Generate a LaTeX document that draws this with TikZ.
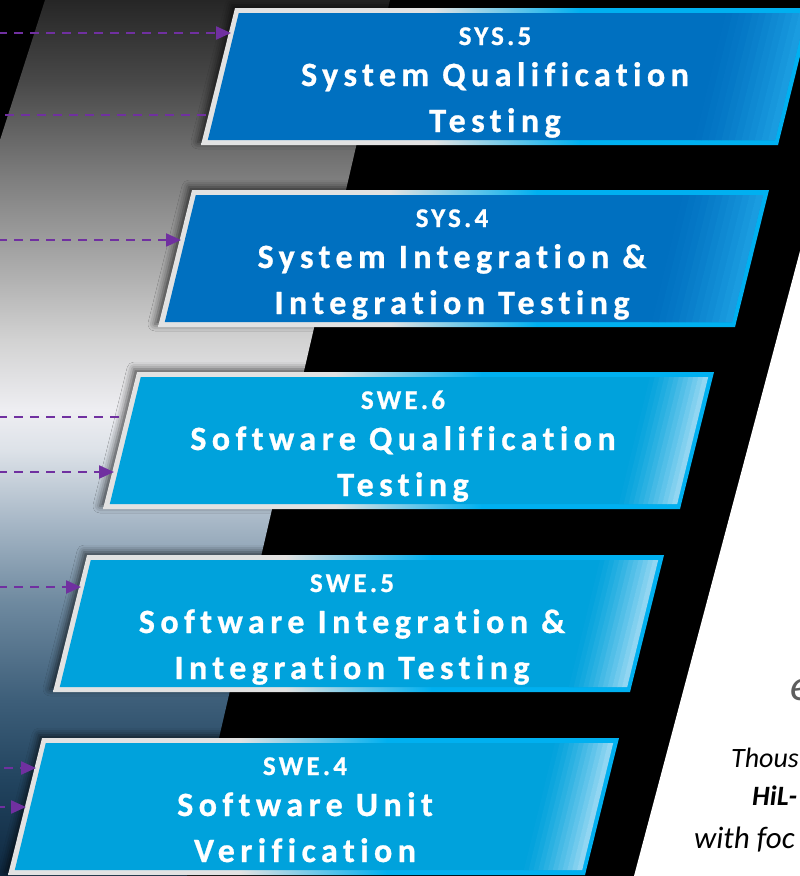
\documentclass[tikz,border=0pt]{standalone}
\usepackage{fontspec}
\newfontfamily\stagefont[LetterSpace=16,FakeBold=0.8,Ligatures={NoCommon,NoContextual}]{Carlito}
\newfontfamily\headfont[LetterSpace=12,FakeBold=0.8,Ligatures={NoCommon,NoContextual}]{Carlito}
\newfontfamily\notefont[Ligatures={NoCommon,NoContextual}]{Carlito}
\usetikzlibrary{arrows.meta,shadows.blur}

\definecolor{sysblue}{HTML}{0070C0}
\definecolor{syslight}{HTML}{1A9CE0}
\definecolor{sweblue}{HTML}{00A2DC}
\definecolor{swelight}{HTML}{92D6F2}
\definecolor{rimgray}{HTML}{E2E2E2}
\definecolor{rimcyan}{HTML}{00B0F0}
\definecolor{flowpurple}{HTML}{7030A0}
\definecolor{noteglyph}{HTML}{5E5E5E}

% vertical colour band behind the stages (0bp bottom ... 100bp top)
\definecolor{bandA}{HTML}{0E2840}
\definecolor{bandB}{HTML}{22445F}
\definecolor{bandC}{HTML}{3D5E79}
\definecolor{bandD}{HTML}{6F8AA0}
\definecolor{bandE}{HTML}{A8B8C7}
\definecolor{bandF}{HTML}{DDE2E8}
\definecolor{bandG}{HTML}{EEEEF2}
\definecolor{bandH}{HTML}{D2D2D2}
\definecolor{bandI}{HTML}{B2B2B2}
\definecolor{bandJ}{HTML}{7F7F7F}
\definecolor{bandK}{HTML}{484848}
\definecolor{bandL}{HTML}{262626}
\pgfdeclareverticalshading{band}{100bp}{%
  color(0bp)=(bandA); color(25bp)=(bandA); color(30.5bp)=(bandB);
  color(35bp)=(bandC); color(40.7bp)=(bandD); color(45.3bp)=(bandE);
  color(49.3bp)=(bandF); color(51.6bp)=(bandG); color(55.6bp)=(bandH);
  color(59bp)=(bandI); color(64.7bp)=(bandJ); color(70.4bp)=(bandK);
  color(75bp)=(bandL); color(100bp)=(bandL)}
% rim of each stage: grey on the left, cyan on the right
\pgfdeclarehorizontalshading{rim}{100bp}{%
  color(0bp)=(rimgray); color(44bp)=(rimgray);
  color(56bp)=(rimcyan); color(100bp)=(rimcyan)}

% slanted stage plate: #1 top-left x, #2 top y, #3 fill, #4 highlight, #5 highlight width
\newcommand\stagebox[5]{%
  \shade[shading=rim, blur shadow={shadow xshift=-3pt, shadow yshift=3pt,
      shadow blur radius=7pt, shadow opacity=65}]
    (#1,#2) -- ++(577,0) -- ++(-34,137) -- ++(-577,0) -- cycle;
  \fill[#3] (#1+3.8,#2+5) -- ++(567,0) -- ++(-31,127) -- ++(-567,0) -- cycle;
  \foreach \i in {1,...,12}{%
    \pgfmathsetmacro\pa{570.8-#5+(\i-1)*#5/12}%
    \pgfmathsetmacro\pb{570.8-#5+\i*#5/12+0.4}%
    \pgfmathtruncatemacro\mix{100*(\i/12)^1.4}%
    \fill[#4!\mix!#3] (#1+\pa,#2+5) -- (#1+\pb,#2+5)
      -- (#1+\pb-31,#2+132) -- (#1+\pa-31,#2+132) -- cycle;
  }%
}
% three text lines of a stage: #1 name, #2 centre x, #3 top y
\newcommand\stagetext[6]{%
  \node[stagehead] (#1-id) at (#2,#3+37) {#4};
  \node[stagetitle] (#1-a) at (#2,#3+78) {#5};
  \node[stagetitle] (#1-b) at (#2,#3+124) {#6};
}

\begin{document}
\begin{tikzpicture}[x=1pt,y=-1pt,
  stagehead/.style={anchor=base, inner sep=0pt, text=white,
    font=\headfont\bfseries\fontsize{27}{27}\selectfont},
  stagetitle/.style={anchor=base, inner sep=0pt, text=white,
    font=\stagefont\bfseries\fontsize{34}{34}\selectfont},
  note/.style={anchor=base west, inner sep=0pt, text=black,
    font=\notefont\itshape\fontsize{28}{28}\selectfont},
  flowline/.style={draw=flowpurple, line width=2.2pt, dash pattern=on 9pt off 7pt},
  flow/.style={flowline, -{Triangle[length=15pt,width=13pt]}}]
\useasboundingbox (0,0) rectangle (800,876);
\clip (0,0) rectangle (800,876);
\fill[black] (0,0) rectangle (800,876);

% gradient band and white panel
\shade[shading=band] (45,0) -- (390,0) -- (187,876) -- (0,876) -- (0,140) -- cycle;
\fill[white] (800,251) -- (634,876) -- (800,876) -- cycle;

% text on the white panel
\node[anchor=base west, inner sep=0pt, text=noteglyph,
  font=\notefont\itshape\fontsize{44}{44}\selectfont] (glyph) at (790,700) {e};
\node[note] (n1) at (731,767) {Thous};
\node[note, font=\notefont\bfseries\itshape\fontsize{28}{28}\selectfont] (n2) at (752,805) {HiL-};
\node[note, font=\notefont\itshape\fontsize{31}{31}\selectfont] (n3) at (694,848) {with foc};

% stage plates
\stagebox{235}{8}{sysblue}{syslight}{80}
\stagebox{192}{190}{sysblue}{syslight}{80}
\stagebox{137}{372}{sweblue}{swelight}{58}
\stagebox{87}{555}{sweblue}{swelight}{58}
\stagebox{42}{738}{sweblue}{swelight}{58}

\stagetext{sys5}{495}{8}{SYS.5}{System Qualification}{Testing}
\stagetext{sys4}{452}{190}{SYS.4}{System Integration \&}{Integration Testing}
\stagetext{swe6}{403}{372}{SWE.6}{Software Qualification}{Testing}
\stagetext{swe5}{352}{555}{SWE.5}{Software Integration \&}{Integration Testing}
\stagetext{swe4}{305}{738}{SWE.4}{Software Unit}{Verification}

% incoming links
\coordinate (s1) at (-2,33);   \coordinate (e1) at (231,33);
\coordinate (s2) at (5,115);   \coordinate (e2) at (208,115);
\coordinate (s3) at (-2,240);  \coordinate (e3) at (181,240);
\coordinate (s4) at (-2,417);  \coordinate (e4) at (126,417);
\coordinate (s5) at (-2,472);  \coordinate (e5) at (114,472);
\coordinate (s6) at (-2,587);  \coordinate (e6) at (81,587);
\coordinate (s7) at (4,768);   \coordinate (e7) at (36,768);
\coordinate (s8) at (-4,807);  \coordinate (e8) at (26,807);
\draw[flow] (s1) -- (e1);
\draw[flowline] (s2) -- (e2);
\draw[flow] (s3) -- (e3);
\draw[flowline] (s4) -- (e4);
\draw[flow] (s5) -- (e5);
\draw[flow] (s6) -- (e6);
\draw[flow] (s7) -- (e7);
\draw[flow] (s8) -- (e8);
\end{tikzpicture}
\end{document}
